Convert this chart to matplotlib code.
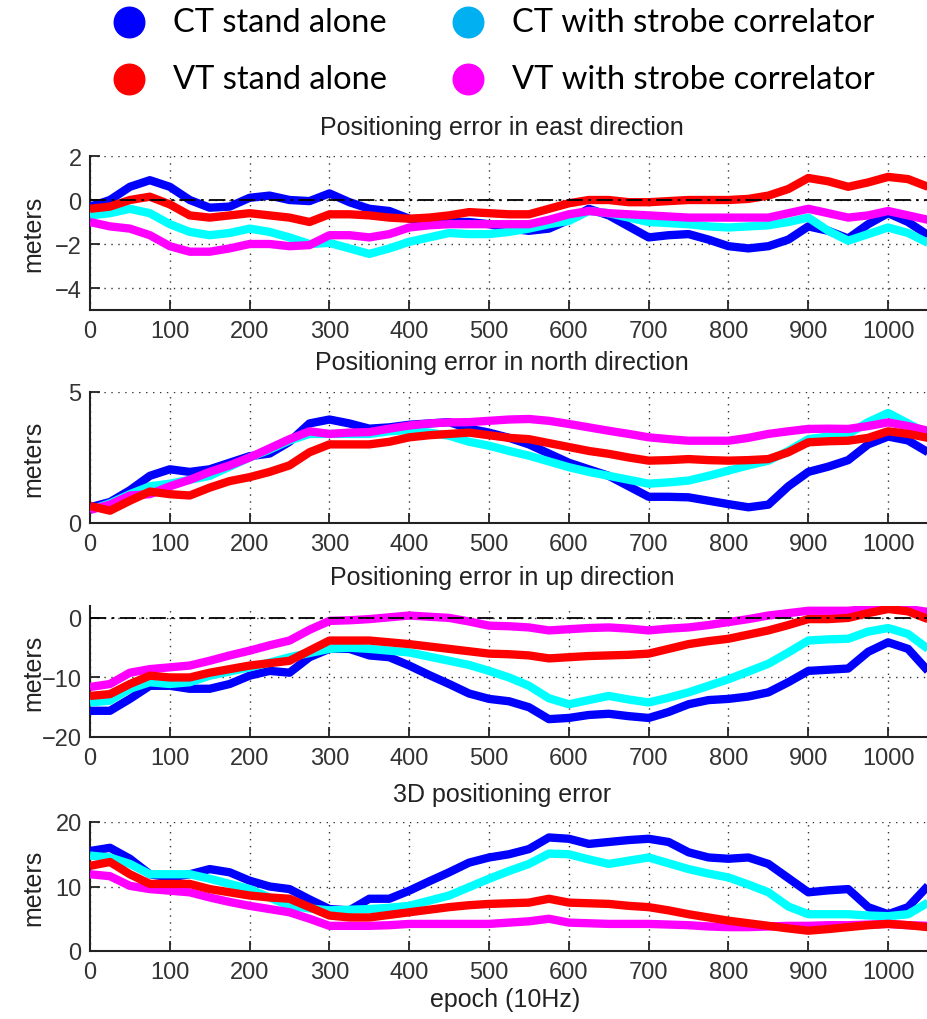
import matplotlib.pyplot as plt
import numpy as np

plt.rcParams['font.family'] = ['Liberation Sans', 'DejaVu Sans']

# epochs sampled every 25 samples (10 Hz)
epoch = np.arange(0, 1051, 25)

series = ["CT stand alone", "CT with strobe correlator",
          "VT stand alone", "VT with strobe correlator"]

# east error (m)
east_ct = [-0.3, 0.0, 0.6, 0.9, 0.6, 0.0, -0.35, -0.3, 0.1, 0.2, 0.0, -0.05, 0.3, -0.1, -0.4,
           -0.5, -0.85, -1.0, -1.0, -1.0, -1.1, -1.3, -1.4, -1.3, -0.9, -0.4, -0.7, -1.2, -1.7,
           -1.6, -1.55, -1.8, -2.1, -2.2, -2.1, -1.8, -1.2, -1.4, -1.75, -1.1, -0.6, -1.0, -1.6]
east_ct_sc = [-0.7, -0.6, -0.4, -0.6, -1.1, -1.45, -1.6, -1.5, -1.3, -1.45, -1.7, -2.0, -1.95,
              -2.2, -2.45, -2.2, -1.9, -1.7, -1.5, -1.55, -1.55, -1.45, -1.3, -1.1, -0.95, -0.5,
              -0.6, -0.8, -1.0, -1.05, -1.1, -1.2, -1.25, -1.2, -1.15, -1.0, -0.8, -1.4, -1.85,
              -1.55, -1.25, -1.5, -1.95]
east_vt = [-0.4, -0.3, 0.0, 0.15, -0.2, -0.7, -0.8, -0.7, -0.6, -0.7, -0.8, -1.0, -0.65, -0.65,
           -0.7, -0.8, -0.85, -0.8, -0.7, -0.55, -0.6, -0.65, -0.65, -0.4, -0.15, 0.0, 0.0, -0.1,
           -0.1, -0.05, 0.0, 0.0, 0.0, 0.05, 0.2, 0.5, 1.0, 0.85, 0.6, 0.8, 1.05, 0.95, 0.6]
east_vt_sc = [-1.0, -1.2, -1.3, -1.6, -2.1, -2.35, -2.35, -2.2, -2.0, -2.0, -2.1, -2.05, -1.6,
              -1.6, -1.7, -1.55, -1.25, -1.15, -1.1, -1.1, -1.1, -1.1, -1.1, -0.9, -0.65, -0.5,
              -0.6, -0.65, -0.7, -0.75, -0.8, -0.8, -0.8, -0.8, -0.8, -0.6, -0.4, -0.6, -0.8,
              -0.7, -0.5, -0.7, -0.9]

# north error (m)
north_ct = [0.6, 0.8, 1.25, 1.8, 2.05, 1.95, 2.05, 2.3, 2.55, 2.65, 3.1, 3.8, 3.95, 3.8, 3.6,
            3.65, 3.75, 3.8, 3.85, 3.6, 3.45, 3.25, 3.0, 2.65, 2.3, 2.05, 1.8, 1.4, 1.0, 1.0,
            0.98, 0.85, 0.72, 0.6, 0.7, 1.4, 1.95, 2.15, 2.4, 3.0, 3.3, 3.15, 2.7]
north_ct_sc = [0.5, 0.75, 1.1, 1.4, 1.5, 1.65, 1.8, 2.15, 2.5, 2.8, 3.15, 3.4, 3.4, 3.4, 3.4,
               3.5, 3.55, 3.45, 3.33, 3.1, 2.95, 2.75, 2.57, 2.35, 2.13, 1.95, 1.8, 1.65, 1.5,
               1.55, 1.62, 1.8, 2.0, 2.2, 2.38, 2.75, 3.2, 3.3, 3.4, 3.85, 4.2, 3.8, 3.4]
north_vt = [0.65, 0.47, 0.85, 1.2, 1.1, 1.05, 1.35, 1.6, 1.75, 1.95, 2.2, 2.7, 3.0, 3.0, 3.0,
            3.1, 3.27, 3.35, 3.4, 3.45, 3.35, 3.25, 3.2, 3.05, 2.9, 2.75, 2.64, 2.5, 2.38, 2.4,
            2.44, 2.4, 2.38, 2.4, 2.44, 2.7, 3.08, 3.12, 3.14, 3.25, 3.5, 3.4, 3.25]
north_vt_sc = [0.5, 0.7, 1.05, 1.1, 1.4, 1.65, 1.95, 2.2, 2.5, 2.85, 3.2, 3.5, 3.4, 3.45, 3.47,
               3.6, 3.72, 3.8, 3.84, 3.85, 3.9, 3.95, 3.97, 3.9, 3.78, 3.65, 3.52, 3.4, 3.27,
               3.2, 3.14, 3.14, 3.14, 3.25, 3.4, 3.5, 3.59, 3.6, 3.59, 3.7, 3.84, 3.7, 3.52]

# up error (m)
up_ct = [-15.6, -15.6, -13.6, -11.4, -11.4, -11.9, -11.9, -11.1, -9.7, -8.9, -9.2, -6.6, -5.2,
         -5.2, -6.3, -6.6, -8.0, -9.6, -11.1, -12.7, -13.6, -14.0, -15.0, -17.0, -16.8, -16.3,
         -16.1, -16.5, -16.8, -15.8, -14.5, -13.8, -13.6, -13.2, -12.5, -10.8, -8.9, -8.7, -8.5,
         -5.7, -4.1, -5.2, -8.9]
up_ct_sc = [-14.2, -13.9, -11.9, -10.8, -11.1, -10.8, -9.7, -9.0, -8.3, -7.5, -6.6, -5.9, -5.2,
            -5.0, -5.2, -5.5, -5.8, -6.5, -7.2, -7.9, -8.9, -10.0, -11.4, -13.5, -14.5, -13.8,
            -13.1, -13.7, -14.2, -13.4, -12.5, -11.4, -10.3, -9.0, -7.7, -5.8, -3.8, -3.6, -3.5,
            -2.3, -1.7, -2.7, -5.2]
up_vt = [-13.1, -12.8, -11.1, -9.7, -10.0, -10.0, -9.2, -8.6, -8.0, -7.6, -7.2, -5.5, -3.8,
         -3.8, -3.8, -4.1, -4.4, -4.8, -5.2, -5.6, -6.0, -6.1, -6.3, -6.8, -6.6, -6.4, -6.3,
         -6.2, -6.0, -5.2, -4.4, -3.9, -3.5, -2.8, -2.1, -1.2, -0.2, -0.2, 0.0, 0.8, 1.5, 1.1,
         -0.2]
up_vt_sc = [-11.6, -11.1, -9.2, -8.6, -8.3, -8.0, -7.2, -6.3, -5.5, -4.6, -3.8, -2.0, -0.5,
            -0.4, -0.2, 0.1, 0.4, 0.2, 0.0, -0.6, -1.3, -1.4, -1.6, -2.1, -1.9, -1.7, -1.6,
            -1.8, -2.1, -1.8, -1.6, -1.2, -0.7, -0.2, 0.4, 0.8, 1.2, 1.2, 1.2, 1.5, 1.8, 1.5, 1.0]

# 3D error (m)
d3_ct = [15.5, 16.0, 14.3, 11.9, 11.4, 11.9, 12.7, 12.2, 10.9, 10.0, 9.6, 8.0, 6.5, 6.3, 8.1,
         8.1, 9.35, 10.8, 12.2, 13.7, 14.5, 15.0, 15.8, 17.6, 17.4, 16.6, 16.9, 17.2, 17.4,
         16.9, 15.3, 14.5, 14.3, 14.5, 13.5, 11.3, 9.1, 9.4, 9.6, 6.8, 5.7, 6.8, 10.1]
d3_ct_sc = [14.8, 14.5, 13.5, 11.9, 11.9, 11.9, 11.2, 10.4, 9.6, 8.3, 7.0, 6.6, 6.3, 6.4, 6.5,
            6.7, 7.0, 7.8, 8.6, 9.9, 11.2, 12.4, 13.5, 15.1, 15.0, 14.2, 13.5, 14.0, 14.5, 13.6,
            12.7, 12.0, 11.4, 10.3, 9.1, 6.9, 5.7, 5.7, 5.7, 5.5, 5.4, 5.7, 7.5]
d3_vt = [13.2, 13.8, 11.9, 10.4, 10.4, 10.4, 9.6, 9.1, 8.6, 8.3, 8.1, 6.8, 5.5, 5.2, 5.2, 5.6,
         6.0, 6.4, 6.8, 7.1, 7.3, 7.4, 7.5, 8.1, 7.5, 7.4, 7.3, 7.0, 6.8, 6.3, 5.7, 5.2, 4.7,
         4.3, 3.9, 3.5, 3.15, 3.4, 3.7, 4.0, 4.2, 4.0, 3.7]
d3_vt_sc = [11.9, 11.6, 10.1, 9.6, 9.35, 9.1, 8.3, 7.6, 7.0, 6.5, 6.0, 5.0, 3.9, 3.9, 3.9, 4.0,
            4.2, 4.2, 4.2, 4.2, 4.2, 4.4, 4.6, 5.0, 4.4, 4.3, 4.2, 4.2, 4.2, 4.1, 4.0, 3.8, 3.7,
            3.7, 3.8, 3.9, 3.9, 4.0, 4.0, 4.1, 4.2, 4.0, 3.9]

line_colors = ["#0000ff", "#00ffff", "#ff0000", "#ff00ff"]
legend_colors = ["#0000ff", "#00b0f0", "#ff0000", "#ff00ff"]
draw_order = [0, 1, 3, 2]

panels = [
    ("Positioning error in east direction", [east_ct, east_ct_sc, east_vt, east_vt_sc],
     (-5, 2), [-4, -2, 0, 2], True),
    ("Positioning error in north direction", [north_ct, north_ct_sc, north_vt, north_vt_sc],
     (0, 5), [0, 5], False),
    ("Positioning error in up direction", [up_ct, up_ct_sc, up_vt, up_vt_sc],
     (-20, 2), [-20, -10, 0], True),
    ("3D positioning error", [d3_ct, d3_ct_sc, d3_vt, d3_vt_sc],
     (0, 20), [0, 10, 20], False),
]

# axes boxes in pixels: (top, bottom)
boxes = [(157, 311), (393, 524), (607, 738), (823, 952)]
title_y = [128, 363, 578, 795]

W, H = 928, 1020
AX_L = 90
fig = plt.figure(figsize=(W / 100, H / 100), dpi=100)

for (title, data, ylim, yticks, zero_line), (top, bot), ty in zip(panels, boxes, title_y):
    ax = fig.add_axes([AX_L / W, 1 - bot / H, 1 - AX_L / W, (bot - top) / H])
    for i in draw_order:
        ax.plot(epoch, data[i], color=line_colors[i], lw=6, solid_capstyle="butt", zorder=3)
    if zero_line:
        ax.axhline(0, color="black", lw=1.3, ls=(0, (9, 3, 1.5, 3)), zorder=4)
    ax.set_xlim(0, 1050)
    ax.set_ylim(*ylim)
    ax.set_xticks(range(0, 1001, 100))
    ax.set_yticks(yticks)
    ax.grid(True, color="#333333", lw=1.0, ls=(0, (1, 4)))
    ax.set_axisbelow(True)
    for s in ["top", "right"]:
        ax.spines[s].set_visible(False)
    for s in ["left", "bottom"]:
        ax.spines[s].set_linewidth(1.5)
        ax.spines[s].set_color("#222222")
    ax.tick_params(direction="in", length=7, width=1.3, labelsize=17, pad=6,
                   colors="#222222", labelcolor="#333333")
    ax.tick_params(axis="x", pad=7)
    ax.set_ylabel("meters", fontsize=18, va="center", color="#222222")
    ax.yaxis.set_label_coords(-57 / (W - AX_L), 0.5)
    fig.text(502 / W, 1 - ty / H, title, ha="center", va="center", fontsize=18,
             color="#222222")

fig.text(505 / W, 1 - 1000 / H, "epoch (10Hz)", ha="center", va="center", fontsize=18,
         color="#222222")

# legend: circles with labels, two rows by two columns
legend_pos = [(129, 23), (468, 23), (129, 80), (468, 80)]
for k, (px, py) in enumerate(legend_pos):
    fig.add_artist(plt.Line2D([px / W], [1 - py / H], transform=fig.transFigure, ls="none",
                              marker="o", markersize=22, color=legend_colors[[0, 1, 2, 3][k]]))
    fig.text((px + 44) / W, 1 - py / H, [series[0], series[1], series[2], series[3]][k],
             ha="left", va="center", fontsize=23.5, family="Lato", color="black")

fig.savefig("out.png", dpi=100)
